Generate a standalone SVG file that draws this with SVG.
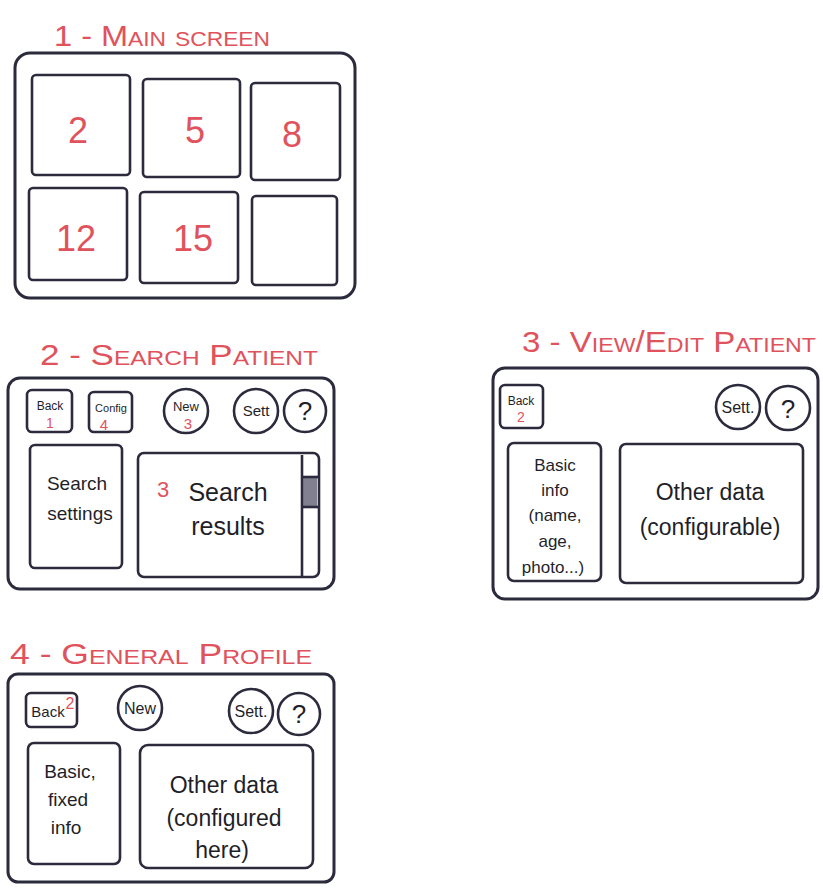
<svg xmlns="http://www.w3.org/2000/svg" width="823" height="890" viewBox="0 0 823 890">
<style>
.bg{fill:#ffffff}
.frame{fill:none;stroke:#2b2b3d;stroke-width:3;stroke-linejoin:round}
.box{fill:none;stroke:#2b2b3d;stroke-width:2.6;stroke-linejoin:round}
.title{font-family:"Liberation Sans",Arial,sans-serif;font-size:30px;fill:#e0525c;font-variant:small-caps}
.num{font-family:"Liberation Sans",Arial,sans-serif;font-size:36px;fill:#e0525c;text-anchor:middle}
.red{font-family:"Liberation Sans",Arial,sans-serif;fill:#e0525c;text-anchor:middle}
.ink{font-family:"Liberation Sans",Arial,sans-serif;fill:#1f1f2a;text-anchor:middle}
</style>
<rect class="bg" x="0" y="0" width="823" height="890"/>

<g id="main-screen">
  <text class="title" x="54" y="46" textLength="216" lengthAdjust="spacingAndGlyphs">1 - Main screen</text>
  <rect class="frame" x="15" y="53" width="340" height="245" rx="15"/>
  <rect class="box" x="32" y="75" width="98" height="100" rx="4"/>
  <rect class="box" x="143" y="79" width="97" height="98" rx="4"/>
  <rect class="box" x="251" y="83" width="89" height="97" rx="4"/>
  <rect class="box" x="29" y="188" width="98" height="92" rx="4"/>
  <rect class="box" x="140" y="192" width="98" height="91" rx="4"/>
  <rect class="box" x="252" y="196" width="85" height="89" rx="4"/>
  <text class="num" x="78" y="143">2</text>
  <text class="num" x="195" y="143">5</text>
  <text class="num" x="292" y="147">8</text>
  <text class="num" x="76" y="251">12</text>
  <text class="num" x="193" y="251">15</text>
</g>

<g id="search-patient">
  <text class="title" x="40" y="365" textLength="278" lengthAdjust="spacingAndGlyphs">2 - Search Patient</text>
  <rect class="frame" x="8" y="378" width="326" height="211" rx="12"/>
  <rect class="box" x="27" y="390" width="45" height="42" rx="5"/>
  <text class="ink" x="50" y="410" font-size="12">Back</text>
  <text class="red" x="50" y="428" font-size="14">1</text>
  <rect class="box" x="89" y="392" width="43" height="40" rx="5"/>
  <text class="ink" x="111" y="412" font-size="11">Config</text>
  <text class="red" x="104" y="430" font-size="15">4</text>
  <circle class="box" cx="186" cy="411" r="22"/>
  <text class="ink" x="186" y="411" font-size="13">New</text>
  <text class="red" x="188" y="429" font-size="15">3</text>
  <circle class="box" cx="256" cy="411" r="22"/>
  <text class="ink" x="256" y="416" font-size="15">Sett</text>
  <circle class="box" cx="305" cy="411" r="21"/>
  <text class="ink" x="305" y="420" font-size="26">?</text>
  <rect class="box" x="30" y="445" width="92" height="123" rx="5"/>
  <text class="ink" x="77" y="490" font-size="19">Search</text>
  <text class="ink" x="80" y="520" font-size="19">settings</text>
  <rect class="box" x="138" y="453" width="181" height="124" rx="6"/>
  <line class="box" x1="302" y1="455" x2="302" y2="576"/>
  <rect x="303" y="477" width="14" height="30" fill="#55556a" opacity="0.75"/>
  <line class="box" x1="302" y1="477" x2="318" y2="477"/>
  <line class="box" x1="302" y1="507" x2="318" y2="507"/>
  <text class="red" x="163" y="497" font-size="22">3</text>
  <text class="ink" x="228" y="501" font-size="25">Search</text>
  <text class="ink" x="228" y="535" font-size="25">results</text>
</g>

<g id="view-edit-patient">
  <text class="title" x="522" y="352" textLength="294" lengthAdjust="spacingAndGlyphs">3 - View/Edit Patient</text>
  <rect class="frame" x="493" y="368" width="325" height="231" rx="12"/>
  <rect class="box" x="500" y="385" width="43" height="43" rx="5"/>
  <text class="ink" x="521" y="405" font-size="12">Back</text>
  <text class="red" x="521" y="422" font-size="14">2</text>
  <circle class="box" cx="738" cy="407" r="22"/>
  <text class="ink" x="738" y="413" font-size="16">Sett.</text>
  <circle class="box" cx="788" cy="408" r="22"/>
  <text class="ink" x="788" y="418" font-size="26">?</text>
  <rect class="box" x="508" y="443" width="93" height="138" rx="6"/>
  <text class="ink" x="555" y="471" font-size="17">Basic</text>
  <text class="ink" x="555" y="496" font-size="17">info</text>
  <text class="ink" x="555" y="521" font-size="17">(name,</text>
  <text class="ink" x="555" y="547" font-size="17">age,</text>
  <text class="ink" x="553" y="573" font-size="17">photo...)</text>
  <rect class="box" x="620" y="444" width="183" height="139" rx="6"/>
  <text class="ink" x="710" y="500" font-size="23">Other data</text>
  <text class="ink" x="710" y="535" font-size="23">(configurable)</text>
</g>

<g id="general-profile">
  <text class="title" x="10" y="664" textLength="302" lengthAdjust="spacingAndGlyphs">4 - General Profile</text>
  <rect class="frame" x="8" y="674" width="326" height="208" rx="10"/>
  <rect class="box" x="26" y="693" width="51" height="34" rx="5"/>
  <text class="ink" x="48" y="717" font-size="15">Back</text>
  <text class="red" x="70" y="709" font-size="16">2</text>
  <circle class="box" cx="140" cy="708" r="22"/>
  <text class="ink" x="140" y="714" font-size="16">New</text>
  <circle class="box" cx="251" cy="711" r="22"/>
  <text class="ink" x="251" y="717" font-size="16">Sett.</text>
  <circle class="box" cx="299" cy="714" r="21"/>
  <text class="ink" x="299" y="723" font-size="26">?</text>
  <rect class="box" x="28" y="743" width="92" height="121" rx="6"/>
  <text class="ink" x="70" y="778" font-size="19">Basic,</text>
  <text class="ink" x="68" y="806" font-size="19">fixed</text>
  <text class="ink" x="66" y="834" font-size="19">info</text>
  <rect class="box" x="140" y="745" width="173" height="123" rx="8"/>
  <text class="ink" x="224" y="793" font-size="23">Other data</text>
  <text class="ink" x="224" y="826" font-size="23">(configured</text>
  <text class="ink" x="222" y="858" font-size="23">here)</text>
</g>
</svg>
